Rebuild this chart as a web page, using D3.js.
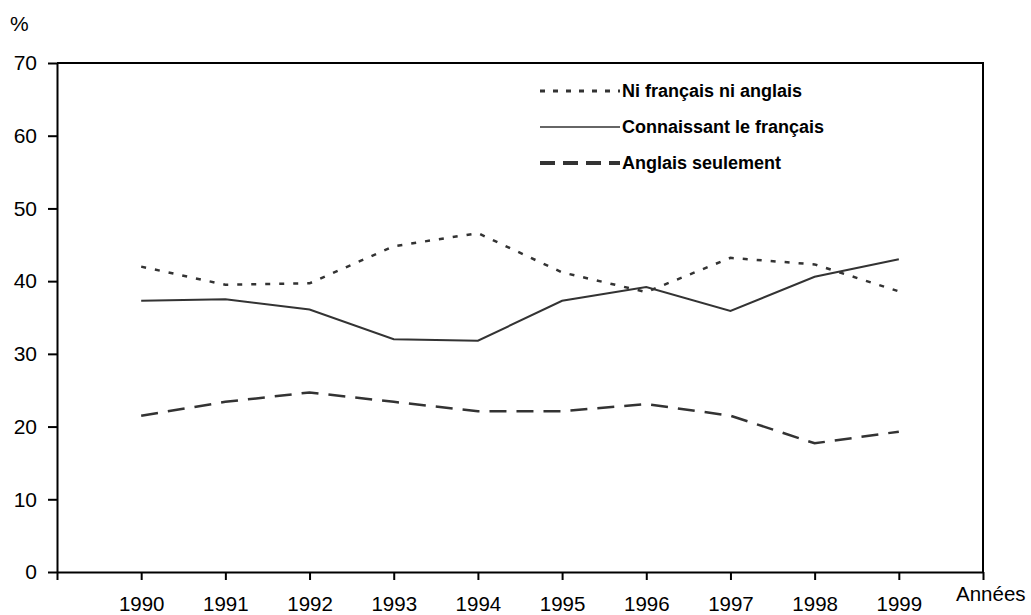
<!DOCTYPE html>
<html>
<head>
<meta charset="utf-8">
<script src="https://cdn.jsdelivr.net/npm/d3@7"></script>
<style>
  body { margin: 0; background: #fff; }
  text { font-family: "Liberation Sans", Arial, sans-serif; fill: #000; }
</style>
</head>
<body>
<svg id="chart" width="1031" height="615"></svg>
<script>
var years = [1990, 1991, 1992, 1993, 1994, 1995, 1996, 1997, 1998, 1999];
var niFrNiAn = [42.0, 39.5, 39.7, 44.8, 46.6, 41.2, 38.5, 43.2, 42.3, 38.6];
var connFr = [37.3, 37.5, 36.1, 32.0, 31.8, 37.3, 39.2, 35.9, 40.6, 43.0];
var anglSeul = [21.5, 23.4, 24.7, 23.4, 22.1, 22.1, 23.1, 21.5, 17.7, 19.3];
var yTicks = [0, 10, 20, 30, 40, 50, 60, 70];
var seriesNames = ["Ni français ni anglais", "Connaissant le français", "Anglais seulement"];

var svg = d3.select('#chart');
var mLeft = 57, mRight = 983, mTop = 63, mBottom = 572;

var x = d3.scaleLinear().domain([1989, 2000]).range([mLeft, mRight]);
var y = d3.scaleLinear().domain([0, 70]).range([mBottom, mTop]);

// frame top + right
svg.append('path')
    .attr('d', 'M' + mLeft + ',' + mTop + 'H' + mRight + 'V' + mBottom)
    .attr('fill', 'none')
    .attr('stroke', '#000')
    .attr('stroke-width', 2);

// y axis
var yAxis = svg.append('g')
    .attr('transform', 'translate(' + mLeft + ',0)')
    .call(d3.axisLeft(y).tickValues(yTicks).tickSize(9).tickPadding(11).tickSizeOuter(0));
yAxis.select('.domain').attr('stroke-width', 2);
yAxis.selectAll('.tick line').attr('stroke-width', 2);
yAxis.selectAll('text').style('font-size', '21px').attr('fill', '#000');

// x axis
var xAxis = svg.append('g')
    .attr('transform', 'translate(0,' + mBottom + ')')
    .call(d3.axisBottom(x).tickValues(d3.range(1989, 2001)).tickSize(8).tickSizeOuter(0)
        .tickFormat(d => years.includes(d) ? d : ''));
xAxis.select('.domain').attr('stroke-width', 2);
xAxis.selectAll('.tick line').attr('stroke-width', 2);
xAxis.selectAll('text').style('font-size', '20.5px').attr('fill', '#000').attr('y', 24);

svg.append('text').attr('x', 10).attr('y', 31).style('font-size', '21px').text('%');
svg.append('text').attr('x', 956).attr('y', 601).style('font-size', '20.5px').text('Années');

var line = d3.line().x((d, i) => x(years[i])).y(d => y(d));

var styles = [
    { data: niFrNiAn, dash: '5,9', width: 2.5 },
    { data: connFr, dash: null, width: 2 },
    { data: anglSeul, dash: '17,10', width: 2.5 }
];

styles.forEach(s => {
    svg.append('path')
        .datum(s.data)
        .attr('d', line)
        .attr('fill', 'none')
        .attr('stroke', '#333')
        .attr('stroke-width', s.width)
        .attr('stroke-dasharray', s.dash);
});

// legend
var legendStyles = [
    { dash: '5,8', width: 3, y: 91 },
    { dash: null, width: 1.5, y: 127 },
    { dash: '15,8', width: 4, y: 163 }
];
var lg = svg.selectAll('.legend')
    .data(seriesNames)
    .enter()
    .append('g')
    .attr('class', 'legend');

lg.append('line')
    .attr('x1', 540)
    .attr('x2', 620)
    .attr('y1', (d, i) => legendStyles[i].y)
    .attr('y2', (d, i) => legendStyles[i].y)
    .attr('stroke', '#333')
    .attr('stroke-width', (d, i) => legendStyles[i].width)
    .attr('stroke-dasharray', (d, i) => legendStyles[i].dash);

lg.append('text')
    .attr('x', 622)
    .attr('y', (d, i) => legendStyles[i].y + 6)
    .style('font-size', '18px')
    .style('font-weight', 'bold')
    .text(d => d);
</script>
</body>
</html>
